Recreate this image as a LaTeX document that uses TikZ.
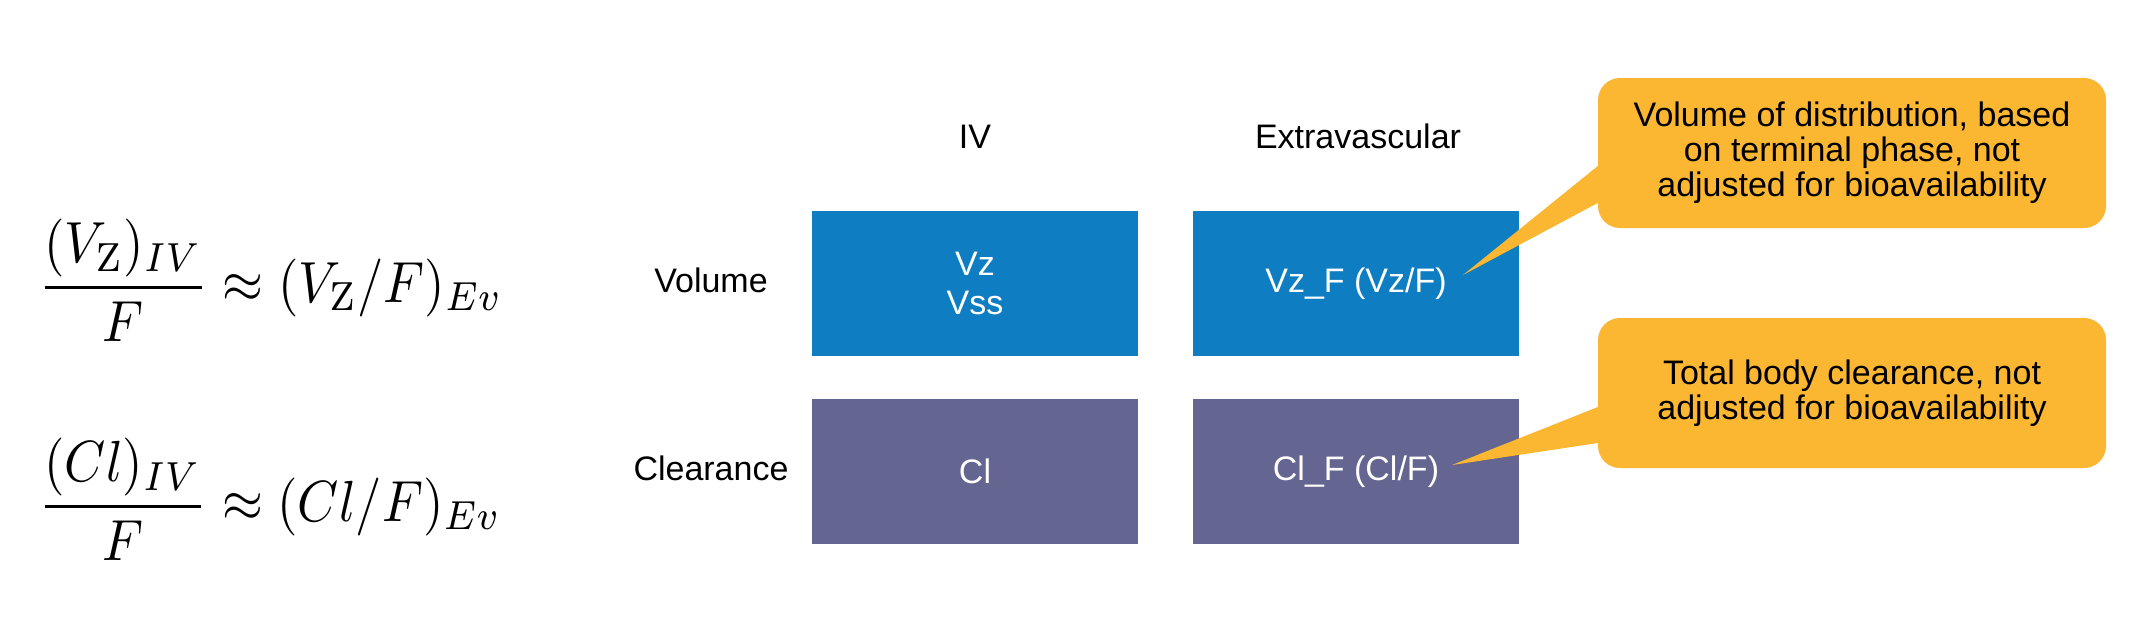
\documentclass[tikz,border=0pt]{standalone}
\usepackage[no-math]{fontspec}
\setmainfont{Liberation Sans}
\usepackage{graphicx}
\usetikzlibrary{calc}
\definecolor{boxblue}{RGB}{14,125,194}
\definecolor{boxpurple}{RGB}{101,101,145}
\definecolor{callorange}{RGB}{251,183,49}
\newcommand{\bigeq}[1]{\scalebox{5.25}[5.8]{$\displaystyle #1$}}
\begin{document}
\begin{tikzpicture}[x=1pt,y=-1pt,
  lab/.style={font=\fontsize{34}{38}\selectfont, inner sep=0pt, anchor=base},
  cell/.style={minimum width=326pt, minimum height=145pt, inner sep=0pt, text=white, align=center, font=\fontsize{34}{39}\selectfont},
  volcell/.style={cell, fill=boxblue},
  clrcell/.style={cell, fill=boxpurple},
  callout/.style={fill=callorange, rounded corners=22pt, minimum width=508pt, minimum height=150pt, align=center, font=\fontsize{34}{35}\selectfont, inner sep=0pt},
  pointer/.style={fill=callorange},
  eq/.style={inner sep=0pt, anchor=base west}]
\useasboundingbox (0,0) rectangle (2140,616);

% formulas
\node[eq] (f1) at (38,302) {\bigeq{\frac{(V_{\mathrm{Z}})_{IV}}{F}\approx(V_{\mathrm{Z}}/F)_{Ev}}};
\node[eq] (f2) at (38,521) {\bigeq{\frac{(Cl)_{IV}}{F}\approx(Cl/F)_{Ev}}};

% headings and row labels
\node[lab] (hiv) at (975,148) {IV};
\node[lab] (hev) at (1358,148) {Extravascular};
\node[lab] (lvol) at (711,292) {Volume};
\node[lab] (lclr) at (711,480) {Clearance};

% cells
\node[volcell] (vziv) at (975,283.5) {Vz\\Vss};
\node[volcell] (vzev) at (1356,283.5) {Vz\_F (Vz/F)};
\node[clrcell] (cliv) at (975,471.5) {Cl};
\node[clrcell] (clev) at (1356,471.5) {Cl\_F (Cl/F)};

% callouts
\node[callout] (c1) at (1852,153) {Volume of distribution, based\\on terminal phase, not\\adjusted for bioavailability};
\node[callout] (c2) at (1852,393) {Total body clearance, not\\adjusted for bioavailability};
\coordinate (t1) at (1463,275);
\coordinate (t2) at (1452,465);
\fill[pointer] (t1) -- ($(c1.west)+(20,-3.2)$) -- ($(c1.west)+(20,39.2)$) -- cycle;
\fill[pointer] (t2) -- ($(c2.west)+(20,6.1)$) -- ($(c2.west)+(20,47)$) -- cycle;
\end{tikzpicture}
\end{document}
